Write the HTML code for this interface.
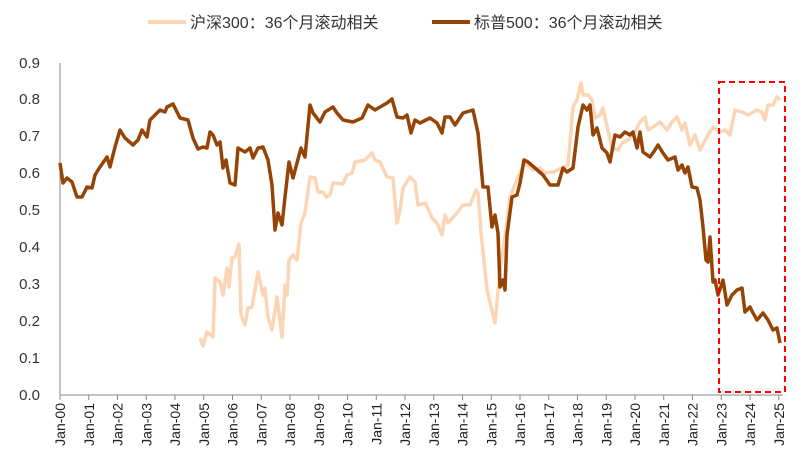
<!DOCTYPE html>
<html><head><meta charset="utf-8"><style>body{margin:0;background:#fff}svg{display:block}text{font-family:"Liberation Sans","Noto Sans CJK SC",sans-serif}</style></head>
<body>
<svg width="803" height="470" viewBox="0 0 803 470">
<g font-size="15" fill="#333" text-anchor="end">
<text x="40" y="400">0.0</text><text x="40" y="363">0.1</text><text x="40" y="326">0.2</text><text x="40" y="289">0.3</text><text x="40" y="252">0.4</text><text x="40" y="215">0.5</text><text x="40" y="178">0.6</text><text x="40" y="141">0.7</text><text x="40" y="104">0.8</text><text x="40" y="68">0.9</text>
</g>
<line x1="60" y1="63" x2="60" y2="395" stroke="#888" stroke-width="1"/>
<line x1="60" y1="395" x2="783" y2="395" stroke="#888" stroke-width="1"/>
<g id="ticks" stroke="#888"></g>
<g id="labs" font-size="14" fill="#222"></g>
<polyline fill="none" stroke="#fcd5b5" stroke-width="3.5" stroke-linejoin="round" points="200,338 203,346 207,332 213,337 215,278 220,282 223,295 227,268 229,287 232,258 235,257 239,244 241,315 245,325 248,308 252,307 258,272 263,295 265,288 268,317 272,330 277,297 282,337 285,285 287,295 289,260 293,255 297,260 301,223 305,213 310,177 315,178 318,192 323,192 326,197 330,195 333,183 343,184 347,175 352,173 355,162 365,160 368,157 372,153 375,160 380,162 387,177 393,178 397,223 400,210 403,188 410,177 415,182 418,205 425,203 430,213 432,218 437,223 442,235 445,215 448,223 457,213 463,205 470,205 476,190 478,193 481,232 487,290 495,323 500,270 505,237 510,197 518,177 525,163 533,170 540,168 545,173 553,172 562,168 568,165 573,107 577,100 581,83 583,95 588,95 592,100 595,118 600,115 603,108 606,122 612,148 618,150 622,143 628,140 635,132 640,122 645,117 648,130 653,127 660,122 667,130 672,122 677,117 682,130 685,123 690,145 695,135 700,150 708,135 713,127 720,132 725,130 730,135 735,110 742,112 748,115 757,110 762,112 765,120 768,105 773,105 777,97 780,100"/>
<polyline fill="none" stroke="#964406" stroke-width="3.5" stroke-linejoin="round" points="60,163 63,183 67,178 72,182 77,197 82,197 87,187 92,188 95,175 100,167 107,157 110,167 115,147 120,130 125,138 133,145 138,140 142,130 147,137 150,120 160,110 165,112 167,107 173,104 180,118 188,120 193,138 198,149 203,147 207,148 210,132 213,135 217,145 220,142 223,168 226,160 230,183 235,185 238,148 245,152 250,148 253,158 258,148 263,147 268,160 272,185 275,230 278,213 282,225 285,197 289,162 293,178 297,163 301,148 305,157 310,105 313,113 320,122 325,112 333,107 337,113 343,120 353,122 362,118 368,105 375,110 380,107 387,103 392,99 397,117 403,118 407,115 411,133 415,120 420,123 430,118 437,123 442,133 445,117 450,117 455,125 463,113 473,110 478,133 483,187 488,187 492,227 495,215 498,233 500,287 503,280 505,290 507,235 512,197 517,195 520,183 524,160 528,162 535,168 543,175 550,185 558,185 563,168 567,172 573,168 578,127 583,105 587,110 590,105 593,135 597,128 602,148 607,153 610,162 615,135 620,137 625,132 630,135 633,132 637,148 640,132 643,152 650,157 655,150 658,145 663,153 668,160 675,157 678,170 682,165 685,173 688,167 692,187 697,188 700,200 703,227 706,260 708,262 710,237 713,282 715,280 718,295 723,280 727,305 732,295 737,290 742,288 745,312 750,307 753,313 757,320 763,313 768,320 773,330 777,328 780,343"/>
<rect x="719" y="82" width="66" height="310" fill="none" stroke="#f00" stroke-width="2" stroke-dasharray="6,4"/>
<line x1="148" y1="22" x2="186" y2="22" stroke="#fcd5b5" stroke-width="4"/>
<text x="190" y="28" font-size="16" fill="#333">沪深300：36个月滚动相关</text>
<line x1="432" y1="22" x2="470" y2="22" stroke="#964406" stroke-width="4"/>
<text x="474" y="28" font-size="16" fill="#333">标普500：36个月滚动相关</text>
</svg>
<script>
var t=document.getElementById('ticks'),l=document.getElementById('labs'),ns='http://www.w3.org/2000/svg';
for(var i=0;i<=25;i++){var x=60+i*28.75;var ln=document.createElementNS(ns,'line');ln.setAttribute('x1',x);ln.setAttribute('x2',x);ln.setAttribute('y1',395);ln.setAttribute('y2',400);t.appendChild(ln);
var tx=document.createElementNS(ns,'text');tx.setAttribute('transform','translate('+(x+5)+',403) rotate(-90)');tx.setAttribute('text-anchor','end');tx.textContent='Jan-'+(i<10?'0':'')+i;l.appendChild(tx);}
</script>
</body></html>
